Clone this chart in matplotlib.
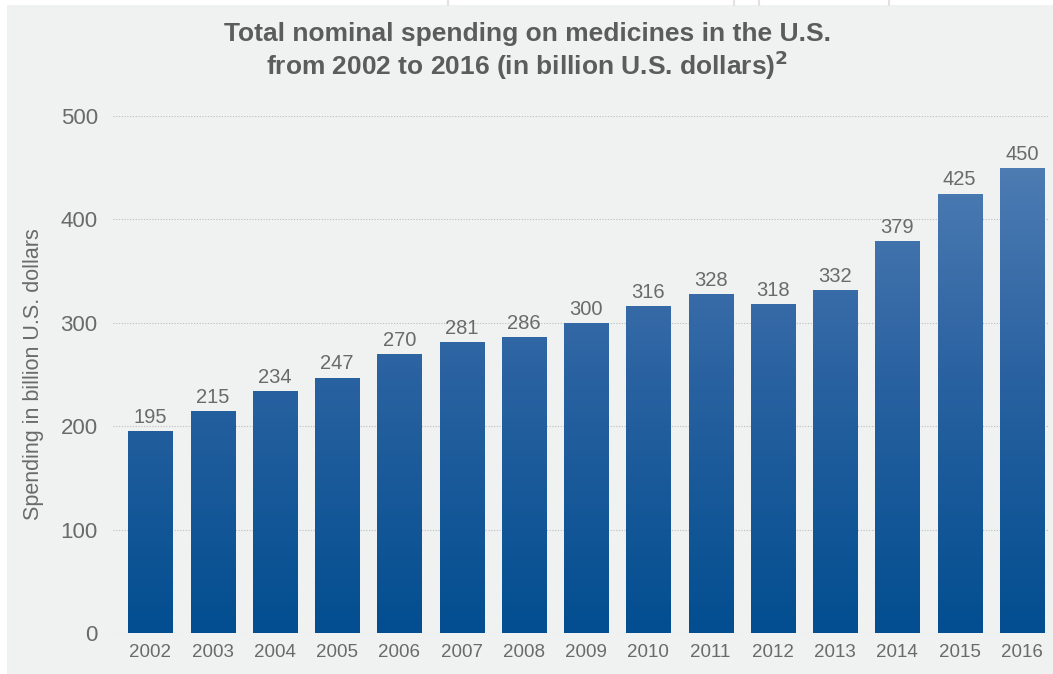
import numpy as np
import matplotlib

matplotlib.use("Agg")
import matplotlib.pyplot as plt
from matplotlib.colors import LinearSegmentedColormap, Normalize
from matplotlib.patches import Rectangle
from matplotlib.lines import Line2D

years = ["2002", "2003", "2004", "2005", "2006", "2007", "2008", "2009",
         "2010", "2011", "2012", "2013", "2014", "2015", "2016"]
spending = [195, 215, 234, 247, 270, 281, 286, 300, 316, 328, 318, 332, 379, 425, 450]
yticks = [0, 100, 200, 300, 400, 500]

TITLE = "Total nominal spending on medicines in the U.S.\nfrom 2002 to 2016 (in billion U.S. dollars)$^{\\mathbf{2}}$"
YLABEL = "Spending in billion U.S. dollars"

BG = "#f0f1f1"
TEXT = "#6a6a6a"
plt.rcParams["font.family"] = ["Liberation Sans", "DejaVu Sans"]

W, H = 1053, 674
fig = plt.figure(figsize=(W / 100, H / 100), dpi=100)
fig.patch.set_facecolor("white")

# grey panel with a thin white strip on top and left
fig.patches.append(Rectangle((7 / W, 0), 1 - 7 / W, (H - 5) / H, transform=fig.transFigure,
                             facecolor=BG, edgecolor="none", zorder=-2))
for px in (448, 734, 759, 889):
    fig.lines.append(Line2D([px / W, px / W], [(H - 5) / H, 1], transform=fig.transFigure,
                            color="#e2e2e2", linewidth=1.5, zorder=-1))

ax = fig.add_axes([113 / W, 41 / H, (1048 - 113) / W, (633 - 116) / H])
ax.set_facecolor("none")
for s in ax.spines.values():
    s.set_visible(False)

x = np.arange(len(years))
bars = ax.bar(x, spending, width=0.71, color="none", zorder=2)

cmap = LinearSegmentedColormap.from_list("blu", ["#024e90", "#2a62a1", "#5682b7"])
norm = Normalize(vmin=0, vmax=500)
grad = np.linspace(0, 500, 256).reshape(-1, 1)
for b in bars:
    im = ax.imshow(grad, cmap=cmap, norm=norm, origin="lower", aspect="auto",
                   extent=[b.get_x(), b.get_x() + b.get_width(), 0, 500], zorder=2)
    im.set_clip_path(b)

for xi, v in zip(x, spending):
    ax.annotate(str(v), (xi, v), xytext=(0, 3), textcoords="offset points",
                ha="center", va="bottom", fontsize=14.5, color=TEXT)

ax.set_xlim(-0.6, 14.42)
ax.set_ylim(0, 500)
ax.set_yticks(yticks)
ax.set_xticks(x)
ax.set_xticklabels(years)
ax.tick_params(axis="y", length=0, pad=11, labelsize=16, labelcolor=TEXT)
ax.tick_params(axis="x", length=0, pad=8, labelsize=13.5, labelcolor=TEXT)
ax.grid(axis="y", linestyle=(0, (1, 1.5)), color="#bcbcbc", linewidth=0.8, zorder=1)
ax.set_axisbelow(True)
ax.set_ylabel(YLABEL, fontsize=15.5, color=TEXT, labelpad=12)

fig.text(527 / W, 1 - 52 / H, TITLE, ha="center", va="center", fontsize=19,
         fontweight="bold", color="#5c5c5c", linespacing=1.1)

fig.savefig("out.png", dpi=100, facecolor=fig.get_facecolor())
